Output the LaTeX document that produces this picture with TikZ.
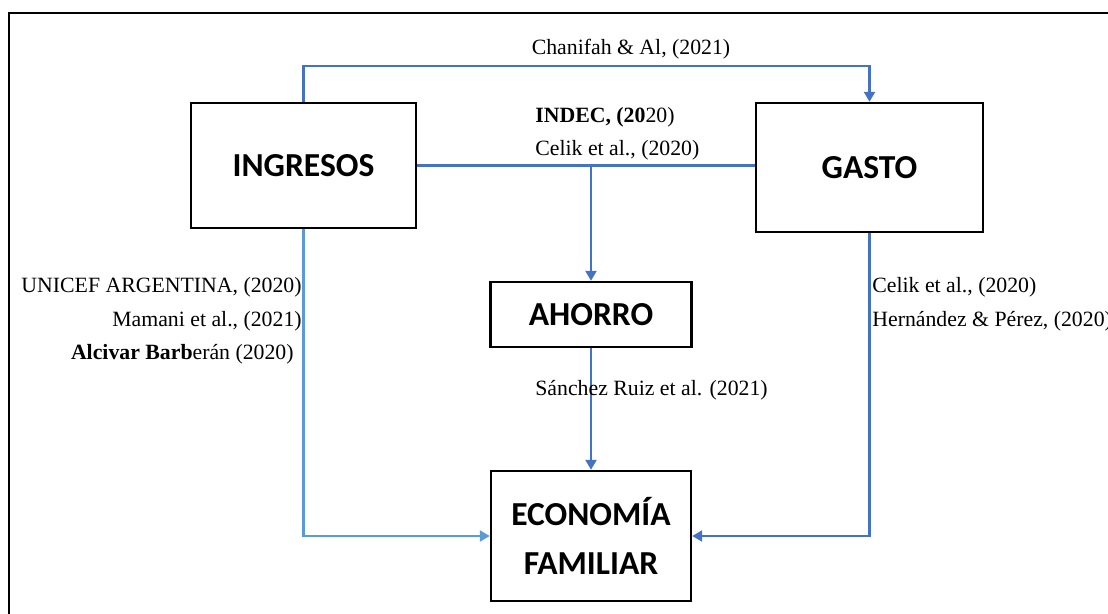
\documentclass[tikz,border=0pt]{standalone}
\usepackage{fontspec}
\setmainfont{Liberation Serif}
\newfontfamily\boxfont{Carlito}
\usetikzlibrary{calc, arrows.meta}

\definecolor{linkblue}{RGB}{68,114,196}
\definecolor{lightblue}{RGB}{91,155,213}

\tikzset{
    varbox/.style={draw=black, line width=1.4pt, align=center, inner sep=0pt,
        font=\boxfont\bfseries\fontsize{19.1}{27.8}\selectfont},
    link/.style={draw=linkblue, line width=1.3pt},
    head/.style={-{Triangle[length=0.2cm, width=0.22cm]}},
    cite/.style={inner sep=0pt, font=\fontsize{12.4}{14}\selectfont}
}

\begin{document}
\begin{tikzpicture}[x=0.02cm, y=-0.02cm]
                    \useasboundingbox (0, 0) rectangle (1108, 613);
                    \clip (0, 0) rectangle (1108, 613);
                    \draw[black, line width=1.1pt] (9, 13) rectangle (1130, 640);
                    
                    \node[varbox, minimum width=4.5cm, minimum height=2.5cm] (ingresos) at (303.5, 165.5) {INGRESOS};
                    \node[varbox, minimum width=4.54cm, minimum height=2.58cm] (gasto) at (869.5, 167.5) {GASTO};
                    \node[varbox, minimum width=4.02cm, minimum height=1.3cm] (ahorro) at (591, 314.5) {AHORRO};
                    \node[varbox, minimum width=4.0cm, minimum height=2.6cm] (economia) at (591, 536) {ECONOMÍA\\FAMILIAR};
                    
                    \coordinate (chanifah) at (869.5, 66);
                    \coordinate (junction) at (ahorro.north |- ingresos.east);
                    
                    \draw[link](ingresos.east) -- (ingresos.east -| gasto.west);
                    \draw[link, head](ingresos.north) |- (chanifah) -- (gasto.north);
                    \draw[link, head](junction) -- (ahorro.north);
                    \draw[link, head](ahorro.south) -- (economia.north);
                    \draw[link, draw=lightblue, head](ingresos.south) |- (economia.west);
                    \draw[link, head](gasto.south) |- (economia.east);
                    
                    \node[cite] (chanifahlbl) at (631, 49) {Chanifah \& Al, (2021)};
                    \node[cite, anchor = west] (indec) at (535, 117) {\textbf{INDEC, (20}20)};
                    \node[cite, anchor = west] (celik) at (535, 150) {Celik et al., (2020)};
                    \node[cite, anchor = east] (unicef) at (302, 287) {UNICEF ARGENTINA, (2020)};
                    \node[cite, anchor = east] (mamani) at (302, 321) {Mamani et al., (2021)};
                    \node[cite, anchor = east] (alcivar) at (294, 354) {\textbf{Alcivar Barb}erán (2020)};
                    \node[cite, anchor = west] (celikgasto) at (872, 287) {Celik et al., (2020)};
                    \node[cite, anchor = west] (hernandez) at (872, 321) {Hernández \& Pérez, (2020)};
                    \node[cite, anchor = west] (sanchez) at (535, 390) {Sánchez Ruiz et al. (2021)};
                \end{tikzpicture}
\end{document}
